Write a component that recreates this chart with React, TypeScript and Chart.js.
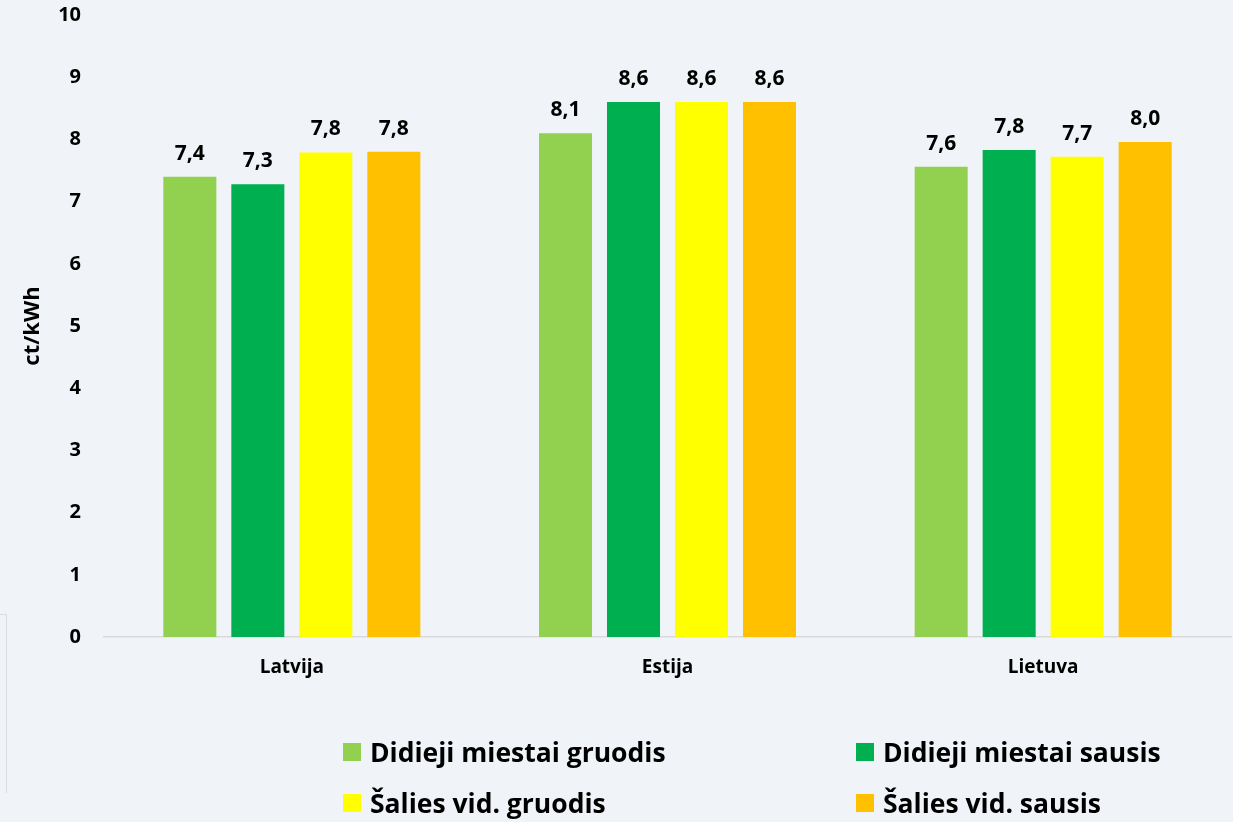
import React, { useEffect, useRef } from "react";
import { Chart, registerables } from "chart.js";

Chart.register(...registerables);

const categories = ["Latvija", "Estija", "Lietuva"];
const seriesNames = [
  "Didieji miestai gruodis",
  "Didieji miestai sausis",
  "Šalies vid. gruodis",
  "Šalies vid. sausis",
];
const didiejiGruodis = [7.4, 8.1, 7.56];
const didiejiSausis = [7.28, 8.6, 7.83];
const saliesGruodis = [7.79, 8.6, 7.72];
const saliesSausis = [7.8, 8.6, 7.96];
const seriesColors = ["#92D050", "#00B050", "#FFFF00", "#FFC000"];
const yTicks = [0, 1, 2, 3, 4, 5, 6, 7, 8, 9, 10];

const FONT = "'Open Sans', Lato, sans-serif";
const BG = "#F0F4F8";

const bgPlugin = {
  id: "bg",
  beforeDraw(chart: any) {
    const { ctx, width, height } = chart;
    ctx.save();
    ctx.fillStyle = BG;
    ctx.fillRect(0, 0, width, height);
    ctx.strokeStyle = "#DADDE0";
    ctx.lineWidth = 1;
    ctx.beginPath();
    ctx.moveTo(6.5, 614);
    ctx.lineTo(6.5, 793);
    ctx.moveTo(0, 614.5);
    ctx.lineTo(6.5, 614.5);
    ctx.stroke();
    ctx.restore();
  },
};

const labelPlugin = {
  id: "valueLabels",
  afterDatasetsDraw(chart: any) {
    const { ctx } = chart;
    ctx.save();
    ctx.font = `bold 21px ${FONT}`;
    ctx.fillStyle = "#000";
    ctx.textAlign = "center";
    ctx.textBaseline = "alphabetic";
    chart.data.datasets.forEach((ds: any, i: number) => {
      const meta = chart.getDatasetMeta(i);
      meta.data.forEach((bar: any, j: number) => {
        const v = ds.data[j] as number;
        const txt = v.toFixed(1).replace(".", ",");
        ctx.fillText(txt, bar.x, bar.y - 17);
      });
    });
    ctx.restore();
  },
};

const legendPlugin = {
  id: "gridLegend",
  afterDraw(chart: any) {
    const { ctx } = chart;
    const cols = [343, 856];
    const rows = [752, 803];
    ctx.save();
    ctx.font = `bold 26.5px ${FONT}`;
    ctx.textBaseline = "alphabetic";
    ctx.textAlign = "left";
    chart.data.datasets.forEach((ds: any, i: number) => {
      const x = cols[i % 2];
      const y = rows[Math.floor(i / 2)];
      ctx.fillStyle = ds.backgroundColor;
      ctx.fillRect(x, y - 9, 18, 18);
      ctx.fillStyle = "#000";
      ctx.fillText(ds.label, x + 27, y + 10);
    });
    ctx.restore();
  },
};

export default function App() {
  const ref = useRef<HTMLCanvasElement>(null);
  useEffect(() => {
    if (!ref.current) return;
    const values = [didiejiGruodis, didiejiSausis, saliesGruodis, saliesSausis];
    const chart = new Chart(ref.current, {
      type: "bar",
      data: {
        labels: categories,
        datasets: values.map((d, i) => ({
          label: seriesNames[i],
          data: d,
          backgroundColor: seriesColors[i],
          borderWidth: 0,
          categoryPercentage: 0.724,
          barPercentage: 0.78,
        })),
      },
      plugins: [bgPlugin, labelPlugin, legendPlugin],
      options: {
        animation: false,
        responsive: false,
        devicePixelRatio: 1,
        layout: { padding: { top: 15, bottom: 130, right: 2, left: 0 } },
        plugins: {
          legend: { display: false },
          tooltip: { enabled: false },
          title: { display: false },
        },
        scales: {
          x: {
            grid: { display: false, drawTicks: false },
            border: { display: true, color: "#D9D9D9", width: 1.5 },
            ticks: {
              color: "#000",
              font: { family: FONT, size: 19, weight: "bold" },
              padding: 19,
            },
            afterFit(scale: any) {
              scale.height = 55;
              scale.paddingLeft = 0;
              scale.paddingRight = 0;
            },
          },
          y: {
            min: 0,
            max: 10,
            afterBuildTicks(scale: any) {
              scale.ticks = yTicks.map((v) => ({ value: v }));
            },
            grid: { display: false, drawTicks: false },
            border: { display: false },
            ticks: {
              color: "#000",
              font: { family: FONT, size: 20, weight: "bold" },
              padding: 23,
            },
            title: {
              display: true,
              text: "ct/kWh",
              color: "#000",
              font: { family: FONT, size: 22, weight: "bold" },
              padding: { top: 20, bottom: 0 },
            },
            afterFit(scale: any) {
              scale.width = 104;
              scale.paddingTop = 0;
              scale.paddingBottom = 0;
            },
          },
        },
      },
    } as any);
    return () => chart.destroy();
  }, []);
  return (
    <div style={{ position: "fixed", left: 0, top: 0, width: 1233, height: 822, background: BG }}>
      <canvas ref={ref} width={1233} height={822} style={{ display: "block" }} />
    </div>
  );
}
